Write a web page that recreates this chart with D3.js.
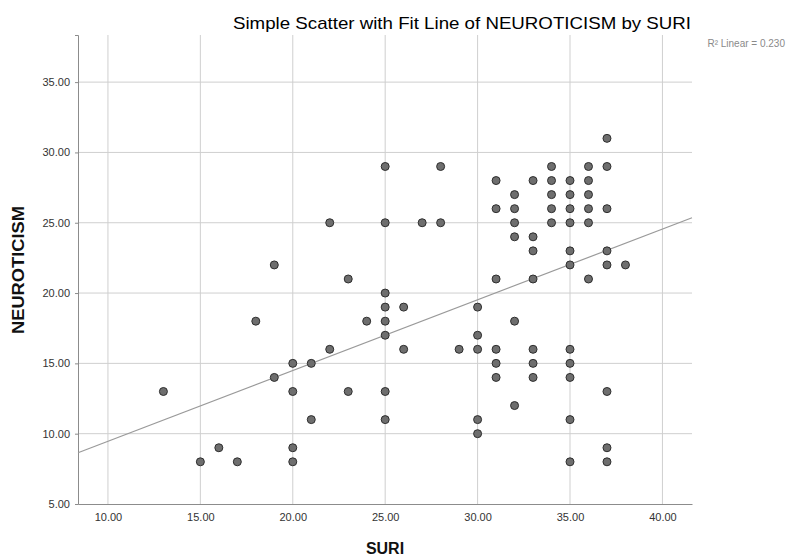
<!DOCTYPE html>
<html>
<head>
<meta charset="utf-8">
<script src="https://cdn.jsdelivr.net/npm/d3@7"></script>
<style>
  body { margin: 0; background: #fff; }
  text { font-family: "Liberation Sans", Arial, sans-serif; }
</style>
</head>
<body>
<div id="chart"></div>
<script>
"use strict";

/* values: [SURI, NEUROTICISM] */
const suri = [13, 15, 16, 17, 18, 19, 19, 20, 20, 20, 20, 21, 21, 22, 22, 23, 23, 24,
  25, 25, 25, 25, 25, 25, 25, 25, 26, 26, 27, 28, 28, 29,
  30, 30, 30, 30, 30, 31, 31, 31, 31, 31, 31,
  32, 32, 32, 32, 32, 32, 33, 33, 33, 33, 33, 33, 33,
  34, 34, 34, 34, 34,
  35, 35, 35, 35, 35, 35, 35, 35, 35, 35, 35,
  36, 36, 36, 36, 36, 36,
  37, 37, 37, 37, 37, 37, 37, 37, 38];
const neuroticism = [13, 8, 9, 8, 18, 22, 14, 15, 13, 9, 8, 15, 11, 25, 16, 21, 13, 18,
  29, 25, 20, 19, 18, 17, 13, 11, 19, 16, 25, 29, 25, 16,
  19, 17, 16, 11, 10, 28, 26, 21, 16, 15, 14,
  27, 26, 25, 24, 18, 12, 28, 24, 23, 21, 16, 15, 14,
  29, 28, 27, 26, 25,
  28, 27, 26, 25, 23, 22, 16, 15, 14, 11, 8,
  29, 28, 27, 26, 25, 21,
  31, 29, 26, 23, 22, 13, 9, 8, 22];

const xTicks = [10, 15, 20, 25, 30, 35, 40];
const yTicks = [5, 10, 15, 20, 25, 30, 35];

// fit line as drawn in the reference
const fitIntercept = 4.43;
const fitSlope = 0.503;
const rSquared = "0.230";

const width = 789, height = 558;
const margin = { top: 35, right: 97, bottom: 54, left: 78 };

const svg = d3.select("#chart")
  .append("svg")
  .attr("width", width)
  .attr("height", height);

const x = d3.scaleLinear()
  .domain([8.38, 41.6])
  .range([margin.left, width - margin.right]);

const y = d3.scaleLinear()
  .domain([5, 38.35])
  .range([height - margin.bottom, margin.top]);

/* gridlines */
const grid = svg.append("g");
grid.selectAll(".vgrid")
  .data(xTicks)
  .enter()
  .append("line")
  .attr("x1", d => x(d)).attr("x2", d => x(d))
  .attr("y1", y.range()[1]).attr("y2", y.range()[0])
  .attr("stroke", "#cfcfcf");
grid.selectAll(".hgrid")
  .data(yTicks.filter(d => d > 5))
  .enter()
  .append("line")
  .attr("x1", x.range()[0]).attr("x2", x.range()[1])
  .attr("y1", d => y(d)).attr("y2", d => y(d))
  .attr("stroke", "#cfcfcf");

/* axes */
const xAxis = svg.append("g")
  .attr("transform", `translate(0,${height - margin.bottom})`)
  .call(d3.axisBottom(x).tickValues(xTicks).tickFormat(d3.format(".2f")).tickSize(0).tickPadding(9));
const yAxis = svg.append("g")
  .attr("transform", `translate(${margin.left},0)`)
  .call(d3.axisLeft(y).tickValues(yTicks).tickFormat(d3.format(".2f")).tickSize(3).tickPadding(5));

for (const ax of [xAxis, yAxis]) {
  ax.select(".domain").attr("stroke", "#8c8c8c");
  ax.selectAll(".tick line").attr("stroke", "#8c8c8c");
  ax.selectAll(".tick text")
    .attr("fill", "#333")
    .style("font-size", "11px")
    .style("font-family", "'Liberation Sans', Arial, sans-serif");
}

/* fit line */
const xd = x.domain();
svg.append("line")
  .attr("x1", x(xd[0])).attr("y1", y(fitIntercept + fitSlope * xd[0]))
  .attr("x2", x(xd[1])).attr("y2", y(fitIntercept + fitSlope * xd[1]))
  .attr("stroke", "#9a9a9a")
  .attr("stroke-width", 1.2);

/* points */
svg.append("g")
  .selectAll("circle")
  .data(d3.zip(suri, neuroticism))
  .enter()
  .append("circle")
  .attr("cx", d => x(d[0]))
  .attr("cy", d => y(d[1]))
  .attr("r", 4)
  .attr("fill", "#6e6e6e")
  .attr("stroke", "#2e2e2e")
  .attr("stroke-width", 1);

/* titles */
svg.append("text")
  .attr("x", 462).attr("y", 29)
  .attr("text-anchor", "middle")
  .attr("textLength", 458)
  .attr("lengthAdjust", "spacingAndGlyphs")
  .style("font-size", "17px")
  .attr("fill", "#000")
  .text("Simple Scatter with Fit Line of NEUROTICISM by SURI");

svg.append("text")
  .attr("x", 785).attr("y", 47)
  .attr("text-anchor", "end")
  .style("font-size", "10px")
  .attr("fill", "#8a8a8a")
  .text(`R\u00B2 Linear = ${rSquared}`);

svg.append("text")
  .attr("x", (x.range()[0] + x.range()[1]) / 2).attr("y", 554)
  .attr("text-anchor", "middle")
  .style("font-size", "16px")
  .style("font-weight", "bold")
  .attr("fill", "#111")
  .text("SURI");

svg.append("text")
  .attr("transform", `translate(24,270) rotate(-90)`)
  .attr("text-anchor", "middle")
  .attr("textLength", 128)
  .attr("lengthAdjust", "spacingAndGlyphs")
  .style("font-size", "16px")
  .style("font-weight", "bold")
  .attr("fill", "#111")
  .text("NEUROTICISM");
</script>
</body>
</html>
